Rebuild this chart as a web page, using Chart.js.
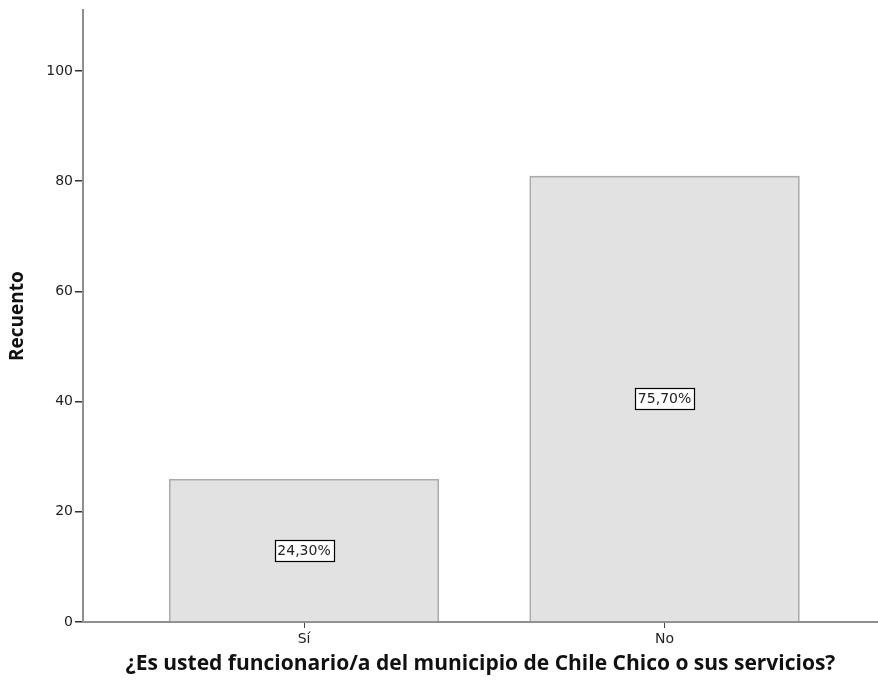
<!DOCTYPE html>
<html>
<head>
<meta charset="utf-8">
<script src="https://cdn.jsdelivr.net/npm/chart.js@4"></script>
<style>
html,body{margin:0;padding:0;background:#fff;}
#wrap{width:878px;height:691px;position:relative;}
</style>
</head>
<body>
<div id="wrap"><canvas id="c" width="878" height="691"></canvas></div>
<script>
const categories = ['Sí', 'No'];
const counts = [26, 81];
const percentLabels = ['24,30%', '75,70%'];
const yTicks = [0, 20, 40, 60, 80, 100];
const yTitle = 'Recuento';
const xTitle = '¿Es usted funcionario/a del municipio de Chile Chico o sus servicios?';

const points = categories.map((c, i) => ({x: i, y: counts[i]}));

const boxLabels = {
  id: 'boxLabels',
  afterDatasetsDraw(chart) {
    const ctx = chart.ctx;
    const xs = chart.scales.x, ys = chart.scales.y;
    ctx.save();
    ctx.font = '14px "DejaVu Sans"';
    ctx.textAlign = 'center';
    ctx.textBaseline = 'middle';
    percentLabels.forEach((t, i) => {
      const cx = xs.getPixelForValue(i);
      const cy = ys.getPixelForValue(counts[i] / 2);
      const w = Math.round(ctx.measureText(t).width + 6);
      const h = 21;
      const x0 = Math.round(cx - w / 2) + 0.5, y0 = Math.round(cy - h / 2) + 0.5;
      ctx.fillStyle = '#ffffff';
      ctx.fillRect(x0, y0, w, h);
      ctx.strokeStyle = '#000000';
      ctx.lineWidth = 1.2;
      ctx.strokeRect(x0, y0, w, h);
      ctx.fillStyle = '#222222';
      ctx.fillText(t, cx, cy + 1);
    });
    ctx.restore();
  }
};

new Chart(document.getElementById('c'), {
  type: 'bar',
  data: {
    datasets: [{
      data: points,
      backgroundColor: '#e2e2e2',
      borderColor: '#acacac',
      borderWidth: 2,
      borderSkipped: 'bottom',
      categoryPercentage: 1,
      barPercentage: 0.75
    }]
  },
  plugins: [boxLabels],
  options: {
    responsive: false,
    animation: false,
    layout: {padding: {top: 7, right: 0, left: 0, bottom: 0}},
    plugins: {legend: {display: false}, tooltip: {enabled: false}},
    scales: {
      x: {
        type: 'linear',
        offset: false,
        min: -0.613,
        max: 1.592,
        afterBuildTicks(scale) { scale.ticks = categories.map((c, i) => ({value: i})); },
        afterFit(scale) { scale.height = 69; },
        ticks: {
          callback: (v) => categories[v],
          font: {family: 'DejaVu Sans', size: 14},
          color: '#222',
          padding: 3,
          maxRotation: 0
        },
        grid: {offset: false, drawOnChartArea: false, drawTicks: true, tickLength: 6, color: '#444', lineWidth: 1},
        border: {display: true, color: '#8f8f8f', width: 2},
        title: {
          display: true,
          text: xTitle,
          font: {family: 'Open Sans', size: 21, weight: 'bold'},
          color: '#111',
          padding: {top: 0, bottom: 14}
        }
      },
      y: {
        min: 0,
        max: 111,
        afterBuildTicks(scale) { scale.ticks = yTicks.map(v => ({value: v})); },
        afterFit(scale) { scale.width = 83; },
        ticks: {
          font: {family: 'DejaVu Sans', size: 14},
          color: '#222',
          padding: 2
        },
        grid: {drawOnChartArea: false, drawTicks: true, tickLength: 8, color: '#333', lineWidth: 1.5},
        border: {display: true, color: '#8f8f8f', width: 2},
        title: {
          display: true,
          text: yTitle,
          font: {family: 'Open Sans', size: 19, weight: 'bold'},
          color: '#111',
          padding: {top: 6, bottom: 0}
        }
      }
    }
  }
});
</script>
</body>
</html>
